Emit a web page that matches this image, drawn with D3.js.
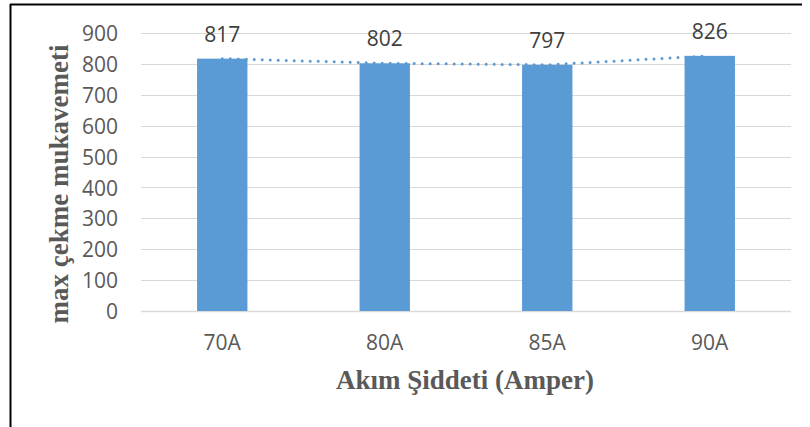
<!DOCTYPE html>
<html><head><meta charset="utf-8">
<script src="https://cdn.jsdelivr.net/npm/d3@7"></script>
<style>html,body{margin:0;padding:0;background:#fff;}svg{display:block;}</style>
</head><body>
<svg id="c" width="810" height="427"></svg>
<script>
const categories = ["70A", "80A", "85A", "90A"];
const values = [817, 802, 797, 826];
const yTicks = [0, 100, 200, 300, 400, 500, 600, 700, 800, 900];
const yTitle = "max çekme mukavemeti";
const xTitle = "Akım Şiddeti (Amper)";

const svg = d3.select("#c");
const m = {left: 141, right: 791, top: 33, bottom: 311};
const x = d3.scaleBand().domain(categories).range([m.left, m.right]).paddingInner(0.69).paddingOuter(0.345);
const y = d3.scaleLinear().domain([0, 900]).range([m.bottom, m.top]);
const grey = "#595959";
const sans = "'Open Sans', sans-serif";
const serif = "'Liberation Serif', 'Times New Roman', serif";

// frame
svg.append("line").attr("x1", 10).attr("x2", 802).attr("y1", 4.5).attr("y2", 4.5).attr("stroke", "#000").attr("stroke-width", 2);
svg.append("line").attr("x1", 10.5).attr("x2", 10.5).attr("y1", 4).attr("y2", 427).attr("stroke", "#000").attr("stroke-width", 2);

// gridlines
svg.append("g").selectAll("line").data(yTicks).join("line")
  .attr("x1", m.left).attr("x2", m.right)
  .attr("y1", d => Math.round(y(d)) + 0.5).attr("y2", d => Math.round(y(d)) + 0.5)
  .attr("stroke", "#d9d9d9").attr("stroke-width", d => d === 0 ? 1.5 : 1);

// y axis labels
const yAxis = d3.axisLeft(y).tickValues(yTicks).tickSize(0).tickPadding(0);
const gy = svg.append("g").attr("transform", `translate(118,0)`).call(yAxis);
gy.select(".domain").remove();
gy.selectAll("text").attr("fill", grey).style("font-family", sans).style("font-size", "21px").attr("dy", "0.36em");

// bars
svg.append("g").selectAll("rect").data(values).join("rect")
  .attr("x", (d, i) => x(categories[i]))
  .attr("width", x.bandwidth())
  .attr("y", d => y(d))
  .attr("height", d => y(0) - y(d))
  .attr("fill", "#5b9bd5");

// dotted line
const line = d3.line().x((d, i) => x(categories[i]) + x.bandwidth() / 2).y(d => y(d));
svg.append("path").datum(values).attr("d", line)
  .attr("fill", "none").attr("stroke", "#5b9bd5").attr("stroke-width", 3)
  .attr("stroke-linecap", "round").attr("stroke-dasharray", "0 8");

// data labels
svg.append("g").selectAll("text").data(values).join("text")
  .attr("x", (d, i) => x(categories[i]) + x.bandwidth() / 2)
  .attr("y", d => y(d) - 17)
  .attr("text-anchor", "middle").attr("fill", "#404040")
  .style("font-family", sans).style("font-size", "21px")
  .text(d => d);

// x axis labels
const xAxis = d3.axisBottom(x).tickSize(0).tickPadding(0);
const gx = svg.append("g").attr("transform", `translate(0,342)`).call(xAxis);
gx.select(".domain").remove();
gx.selectAll("text").attr("fill", grey).style("font-family", sans).style("font-size", "21px").attr("dy", "0.36em");

// titles
svg.append("text").attr("x", 465).attr("y", 389).attr("text-anchor", "middle")
  .attr("fill", grey).style("font-family", serif)
  .style("font-weight", "bold").style("font-size", "27px").text(xTitle);
svg.append("text").attr("transform", "translate(68,184) rotate(-90)").attr("text-anchor", "middle")
  .attr("fill", grey).style("font-family", serif)
  .style("font-weight", "bold").style("font-size", "27px").text(yTitle);
</script>
</body></html>
